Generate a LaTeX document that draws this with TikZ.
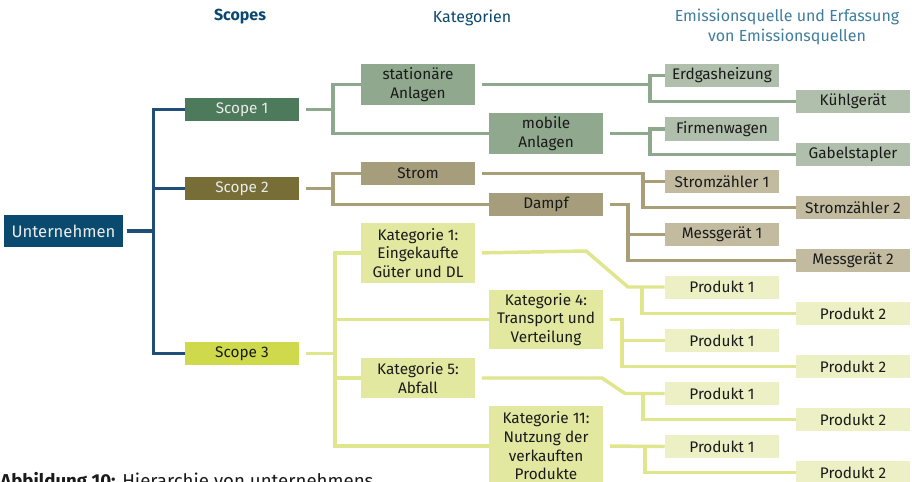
\documentclass[tikz,border=0pt]{standalone}
\usepackage{fontspec}
\setmainfont{Fira Sans}
\definecolor{hblue}{HTML}{0B4870}
\definecolor{hblue2}{HTML}{3F7E9C}
\definecolor{ublue}{HTML}{0A4A6E}
\definecolor{lblue}{HTML}{1F4E79}
\definecolor{s1col}{HTML}{4D7A5A}
\definecolor{gline}{HTML}{8DA88C}
\definecolor{gbox}{HTML}{8FA88E}
\definecolor{gbox2}{HTML}{B0BFAC}
\definecolor{s2col}{HTML}{766E36}
\definecolor{bline}{HTML}{A89E78}
\definecolor{bbox}{HTML}{A69D7D}
\definecolor{bbox2}{HTML}{C2BBA0}
\definecolor{s3col}{HTML}{CFD94C}
\definecolor{yline}{HTML}{E0E68E}
\definecolor{ybox}{HTML}{E2E8A0}
\definecolor{ybox2}{HTML}{ECF0C4}
\definecolor{txt}{HTML}{1A1A1A}
\tikzset{
  bx/.style={inner sep=0pt, minimum width=85.5pt, minimum height=17.25pt, align=center,
     font=\fontsize{11.5}{14}\selectfont, text=txt},
  darkbx/.style={bx, text=white!92!black},
  con/.style={line width=2.6pt},
  bl/.style={con, draw=lblue, line width=2.3pt},
  gl/.style={con, draw=gline},
  brl/.style={con, draw=bline},
  yl/.style={con, draw=yline},
  fromr/.style={shorten <=5pt},
  hdr/.style={font=\fontsize{12}{14.5}\selectfont, align=center}
}
\begin{document}
\begin{tikzpicture}[x=0.75pt,y=-0.75pt]
\useasboundingbox (0,0) rectangle (912,481);
\clip (0,0) rectangle (912,481);
\fill[white] (0,0) rectangle (912,481);

% headers
\node[hdr, text=hblue, font=\fontsize{12}{14.5}\selectfont\bfseries] (h1) at (240,17) {Scopes};
\node[hdr, text=hblue] (h2) at (472,18) {Kategorien};
\node[hdr, text=hblue2] (h3) at (787,27) {Emissionsquelle und Erfassung\\von Emissionsquellen};

% level 0/1
\node[darkbx, fill=ublue, minimum width=89.25pt, minimum height=24pt, font=\fontsize{12.5}{15}\selectfont] (U) at (63.5,231) {Unternehmen};
\node[darkbx, fill=s1col] (S1) at (242,109.5) {Scope 1};
\node[darkbx, fill=s2col] (S2) at (242,188.5) {Scope 2};
\node[bx, fill=s3col] (S3) at (242,353.5) {Scope 3};

% categories
\node[bx, fill=gbox, minimum height=30.75pt] (stat) at (418,84.5) {stationäre\\Anlagen};
\node[bx, fill=gbox, minimum height=30.75pt] (mob) at (546,133.5) {mobile\\Anlagen};
\node[bx, fill=bbox] (strom) at (418,173.5) {Strom};
\node[bx, fill=bbox] (dampf) at (546,204.5) {Dampf};
\node[bx, fill=ybox, minimum height=45pt] (k1) at (418,253) {Kategorie 1:\\Eingekaufte\\Güter und DL};
\node[bx, fill=ybox, minimum height=44.25pt] (k4) at (546,319.5) {Kategorie 4:\\Transport und\\Verteilung};
\node[bx, fill=ybox, minimum height=30pt] (k5) at (418,378) {Kategorie 5:\\Abfall};
\node[bx, fill=ybox, minimum height=60pt] (k11) at (546,446) {Kategorie 11:\\Nutzung der\\verkauften\\Produkte};

% sources
\node[bx, fill=gbox2] (erd) at (722,75.5) {Erdgasheizung};
\node[bx, fill=gbox2] (kuehl) at (853,101.5) {Kühlgerät};
\node[bx, fill=gbox2] (firm) at (722,129) {Firmenwagen};
\node[bx, fill=gbox2] (gabel) at (853,154.5) {Gabelstapler};
\node[bx, fill=bbox2] (sz1) at (722,181.5) {Stromzähler 1};
\node[bx, fill=bbox2] (sz2) at (853,207.5) {Stromzähler 2};
\node[bx, fill=bbox2] (mg1) at (722,234.5) {Messgerät 1};
\node[bx, fill=bbox2] (mg2) at (853,260.5) {Messgerät 2};
\node[bx, fill=ybox2] (p11) at (722,287) {Produkt 1};
\node[bx, fill=ybox2] (p12) at (853,313.5) {Produkt 2};
\node[bx, fill=ybox2] (p41) at (722,340.5) {Produkt 1};
\node[bx, fill=ybox2] (p42) at (853,366.5) {Produkt 2};
\node[bx, fill=ybox2] (p51) at (722,393.5) {Produkt 1};
\node[bx, fill=ybox2] (p52) at (853,419.5) {Produkt 2};
\node[bx, fill=ybox2] (p111) at (722,446.5) {Produkt 1};
\node[bx, fill=ybox2] (p112) at (853,472.5) {Produkt 2};

% blue connectors
\coordinate (bU) at (154,231);
\draw[bl, shorten <=3pt] (U.east) -- (bU);
\draw[bl] (S1.west) -- ++(-31,0) |- (S3.west);
\draw[bl] (S2.west) -- ++(-31,0);

% green connectors
\coordinate (g1) at (333,109.5);
\draw[gl, fromr] (S1.east) -- (g1);
\draw[gl] (stat.west) -- (333,84.5) |- (mob.west);
\draw[gl, fromr] (stat.east) -- (650,84.5);
\draw[gl] (erd.west) -- (650,75.5) |- (kuehl.west);
\draw[gl, fromr] (mob.east) -- (650,133.5);
\draw[gl] (firm.west) -- (650,129) |- (gabel.west);

% brown connectors
\coordinate (b1) at (333,188.5);
\draw[brl, fromr] (S2.east) -- (b1);
\draw[brl] (strom.west) -- (333,173.5) |- (dampf.west);
\draw[brl, fromr] (strom.east) -| (643,207.5) -- (sz2.west);
\draw[brl] (643,181.5) -- (sz1.west);
\draw[brl, fromr] (dampf.east) -| (628,260.5) -- (mg2.west);
\draw[brl] (628,234.5) -- (mg1.west);

% yellow connectors
\coordinate (y1) at (335,353.5);
\draw[yl, fromr] (S3.east) -- (y1);
\draw[yl] (k1.west) -- (335,253) |- (k11.west);
\draw[yl] (335,319.5) -- (k4.west);
\draw[yl] (335,378) -- (k5.west);
\draw[yl, fromr] (k1.east) -- (586,251) -- (628,287) -- (p11.west);
\draw[yl] (642,287) |- (p12.west);
\draw[yl, fromr] (k4.east) -| (622,366.5) -- (p42.west);
\draw[yl] (622,340.5) -- (p41.west);
\draw[yl, fromr] (k5.east) -- (602,378) -- (625,393.5) -- (p51.west);
\draw[yl] (643,393.5) |- (p52.west);
\draw[yl, fromr] (k11.east) -- (p111.west);
\draw[yl] (645,446.5) |- (p112.west);

% caption (cut off at the lower edge, as in the reference)
\node[anchor=base west, inner sep=0pt, text=txt, font=\fontsize{14}{16}\selectfont] (cap) at (0,487) {\textbf{Abbildung 10:} Hierarchie von unternehmens};
\end{tikzpicture}
\end{document}
